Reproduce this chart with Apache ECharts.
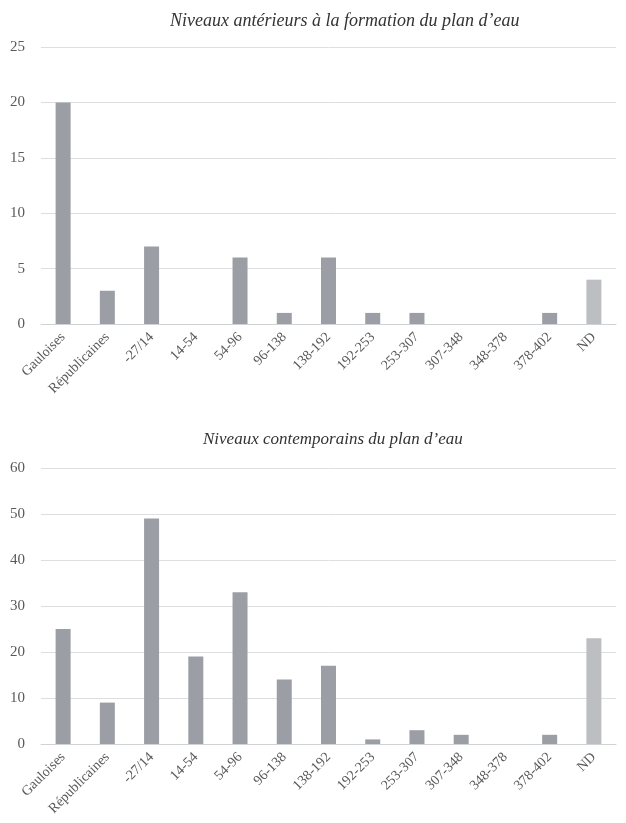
<!DOCTYPE html>
<html><head><meta charset="utf-8">
<script src="https://cdn.jsdelivr.net/npm/echarts@6/dist/echarts.min.js"></script>
<style>html,body{margin:0;padding:0;background:#fff}#c{width:626px;height:823px}</style>
</head><body><div id="c"></div>
<script>
const categories = ['Gauloises','Républicaines','-27/14','14-54','54-96','96-138','138-192','192-253','253-307','307-348','348-378','378-402','ND'];
const valuesAnterieurs = [20,3,7,0,6,1,6,1,1,0,0,1,4];
const valuesContemporains = [25,9,49,19,33,14,17,1,3,2,0,2,23];
const titleTop = 'Niveaux antérieurs à la formation du plan d\u2019eau';
const titleBottom = 'Niveaux contemporains du plan d\u2019eau';

const FONT = '"Liberation Serif", "DejaVu Serif", serif';
const TXT = '#595959';
const DARK = '#9b9ea4';
const LIGHT = '#bdbec2';
const chart = echarts.init(document.getElementById('c'), null, {renderer:'canvas'});
function xAxis(gi){
  return {type:'category', gridIndex:gi, data:categories,
    axisLine:{lineStyle:{color:'#d0d3d6'}}, axisTick:{show:false},
    axisLabel:{rotate:45, interval:0, color:TXT, fontFamily:FONT, fontSize:14, margin:11}};
}
function yAxis(gi,max,intv){
  return {type:'value', gridIndex:gi, min:0, max:max, interval:intv,
    axisLine:{show:false}, axisTick:{show:false},
    splitLine:{lineStyle:{color:'#dcdee0'}},
    axisLabel:{color:TXT, fontFamily:FONT, fontSize:15, margin:16}};
}
const colorFn = p => p.name === 'ND' ? LIGHT : DARK;
chart.setOption({
  animation:false,
  title:[
    {text:titleTop, left:165, top:7, textStyle:{fontFamily:FONT, fontStyle:'italic', fontWeight:'normal', fontSize:18, color:'#333'}},
    {text:titleBottom, left:198, top:426, textStyle:{fontFamily:FONT, fontStyle:'italic', fontWeight:'normal', fontSize:17, color:'#333'}}
  ],
  grid:[
    {left:41, right:10, top:47, height:277},
    {left:41, right:10, top:468, height:276}
  ],
  xAxis:[xAxis(0), xAxis(1)],
  yAxis:[yAxis(0,25,5), yAxis(1,60,10)],
  series:[
    {type:'bar', xAxisIndex:0, yAxisIndex:0, data:valuesAnterieurs, barWidth:15, itemStyle:{color:colorFn}},
    {type:'bar', xAxisIndex:1, yAxisIndex:1, data:valuesContemporains, barWidth:15, itemStyle:{color:colorFn}}
  ]
});
</script></body></html>
